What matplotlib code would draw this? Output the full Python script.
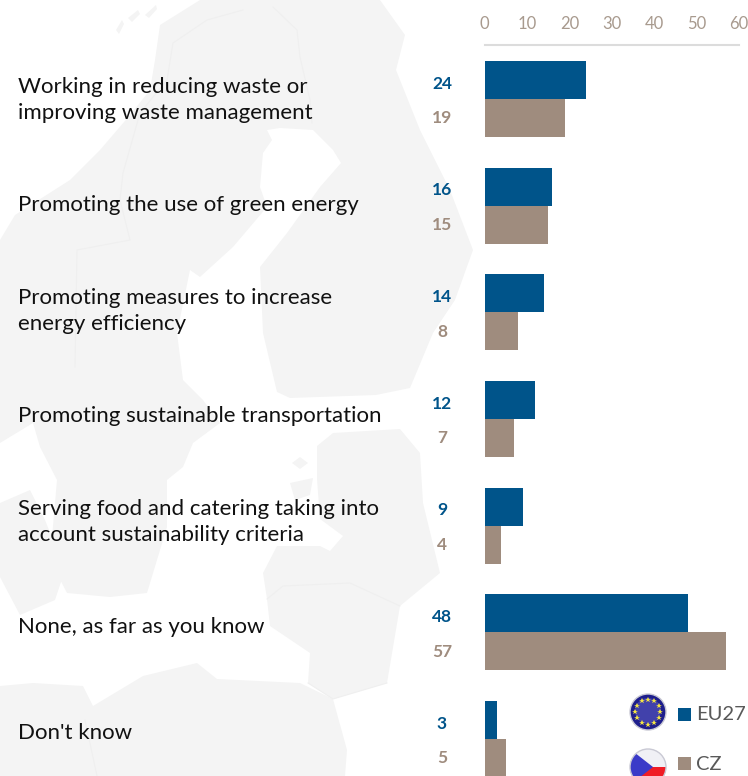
import numpy as np
import matplotlib
matplotlib.use("Agg")
import matplotlib.pyplot as plt
from matplotlib.patches import Polygon, Circle, Rectangle
from matplotlib.transforms import blended_transform_factory

categories = [
    "Working in reducing waste or\nimproving waste management",
    "Promoting the use of green energy",
    "Promoting measures to increase\nenergy efficiency",
    "Promoting sustainable transportation",
    "Serving food and catering taking into\naccount sustainability criteria",
    "None, as far as you know",
    "Don't know",
]
eu27 = [24, 16, 14, 12, 9, 48, 3]
cz = [19, 15, 8, 7, 4, 57, 5]
x_ticks = [0, 10, 20, 30, 40, 50, 60]

BLUE = "#00548a"
TAN = "#9f8c7e"
TICK = "#a89a8e"
LAND = "#f4f4f4"
W, H = 748, 776

plt.rcParams["font.family"] = ["Lato", "DejaVu Sans"]
fig = plt.figure(figsize=(W / 100, H / 100), dpi=100)

# background map + legend drawn in pixel coords
bg = fig.add_axes([0, 0, 1, 1])
bg.set_xlim(0, W)
bg.set_ylim(H, 0)
bg.axis("off")

scandinavia = [(200, 0), (380, 0), (405, 35), (396, 70), (420, 130), (450, 190), (473, 250),
               (455, 300), (433, 333), (410, 388), (376, 395), (290, 398), (277, 392),
               (263, 333), (260, 267), (287, 233), (320, 187), (341, 163), (333, 150), (313, 130),
               (280, 128), (267, 130), (272, 140), (263, 153), (260, 187), (267, 207),
               (233, 247), (200, 277), (190, 270), (177, 333), (183, 380), (203, 400), (220, 423),
               (193, 443), (183, 467), (167, 480), (167, 527), (147, 593), (110, 597), (67, 593),
               (50, 560), (57, 480), (40, 447), (33, 423), (0, 443), (0, 240), (15, 215),
               (70, 180), (100, 150), (130, 115), (150, 90), (155, 60), (160, 25)]
baltics = [(317, 446), (333, 433), (400, 429), (420, 453), (423, 503), (440, 573), (400, 606),
           (350, 583), (283, 586), (267, 599), (263, 573), (277, 546), (320, 546), (330, 551),
           (343, 536), (320, 519), (317, 479)]
poland = [(267, 599), (283, 586), (350, 583), (400, 606), (387, 683), (333, 699), (308, 683),
          (310, 653), (270, 626)]
central = [(0, 686), (33, 683), (83, 686), (93, 706), (143, 676), (197, 663), (217, 679),
           (300, 683), (333, 699), (347, 750), (345, 776), (0, 776)]
denmark = [(0, 503), (30, 490), (45, 520), (65, 570), (55, 600), (20, 615), (0, 577)]
islands = [[(290, 483), (313, 478), (310, 495), (295, 500)],
           [(292, 463), (300, 457), (308, 463), (300, 469)],
           [(116, 30), (122, 20), (124, 24), (119, 34)],
           [(128, 18), (138, 10), (140, 14), (132, 22)],
           [(145, 15), (156, 5), (157, 9), (149, 18)]]
for shape in [scandinavia, baltics, poland, central, denmark] + islands:
    bg.add_patch(Polygon(shape, closed=True, fc=LAND, ec="none"))
borders = [[(243, 10), (207, 20), (173, 43), (167, 80), (140, 113), (123, 173), (120, 200),
            (130, 240), (77, 250), (75, 367)],
           [(273, 7), (297, 30), (300, 57), (310, 100), (312, 123)],
           [(267, 599), (283, 586), (350, 583), (400, 606)],
           [(308, 683), (333, 699), (387, 683)],
           [(85, 720), (97, 776)]]
for border in borders:
    bg.plot(*zip(*border), color="#efefef", lw=0.8)

# chart
ax = fig.add_axes([484.5 / W, 0, (739 - 484.5) / W, (H - 44.5) / H])
ax.patch.set_alpha(0)
y = np.arange(len(categories))
bar_h = 38 / 106.67
ax.barh(y - bar_h / 2, eu27, height=bar_h, color=BLUE)
ax.barh(y + bar_h / 2, cz, height=bar_h, color=TAN)
ax.set_xlim(0, 60)
ax.set_ylim((776 - 99) / 106.67, (44.5 - 99) / 106.67)
ax.xaxis.tick_top()
ax.set_xticks(x_ticks)
ax.set_yticks([])
ax.tick_params(axis="x", length=0, pad=9, labelsize=12, labelcolor=TICK)
for s in ["left", "right", "bottom"]:
    ax.spines[s].set_visible(False)
ax.spines["top"].set_color("#dcdcdc")
ax.spines["top"].set_linewidth(1.5)

trans = blended_transform_factory(fig.transFigure, ax.transData)
for i, label in enumerate(categories):
    ax.text(18 / W, i * 0.989 + 0.008, label, transform=trans, ha="left", va="center",
            fontsize=16, color="#111111", linespacing=1.37, clip_on=False)
    ax.text(442 / W, i - 0.145, str(eu27[i]), transform=trans, ha="center", va="center",
            fontsize=12.5, fontweight="bold", color=BLUE, clip_on=False)
    ax.text(442 / W, i + 0.18, str(cz[i]), transform=trans, ha="center", va="center",
            fontsize=12.5, fontweight="bold", color=TAN, clip_on=False)

# legend with flag badges
top = fig.add_axes([0, 0, 1, 1])
top.set_xlim(0, W)
top.set_ylim(H, 0)
top.axis("off")
top.add_patch(Circle((648, 712), 18, fc="#1e1e8c", ec="#c9c9d4", lw=1))
top.add_patch(Circle((648, 711), 13, fc="#5a5ac0", ec="none", alpha=0.6))
for a in np.arange(0, 360, 30):
    top.plot(648 + 12.5 * np.sin(np.radians(a)), 712 - 12.5 * np.cos(np.radians(a)),
             marker="*", ms=4, color="#f5e642", mew=0)

clip = Circle((648, 767), 18, transform=top.transData)
white = Rectangle((630, 749), 36, 18, fc="#f0f0f5", ec="none")
red = Rectangle((630, 767), 36, 18, fc="#f01c25", ec="none")
blue = Polygon([(630, 749), (653, 767), (630, 785)], closed=True, fc="#3a3ac8", ec="none")
for p in [white, red, blue]:
    top.add_patch(p)
    p.set_clip_path(clip)
top.add_patch(Circle((648, 767), 18, fc="none", ec="#c9c9d4", lw=1))

top.add_patch(Rectangle((678, 708), 13, 13, fc=BLUE, ec="none"))
top.add_patch(Rectangle((678, 757), 13, 13, fc=TAN, ec="none"))
top.text(696.5, 714, "EU27", fontsize=14.5, color="#595959", va="center", ha="left")
top.text(696.5, 764, "CZ", fontsize=14.5, color="#595959", va="center", ha="left")

fig.savefig("out.png", dpi=100)
